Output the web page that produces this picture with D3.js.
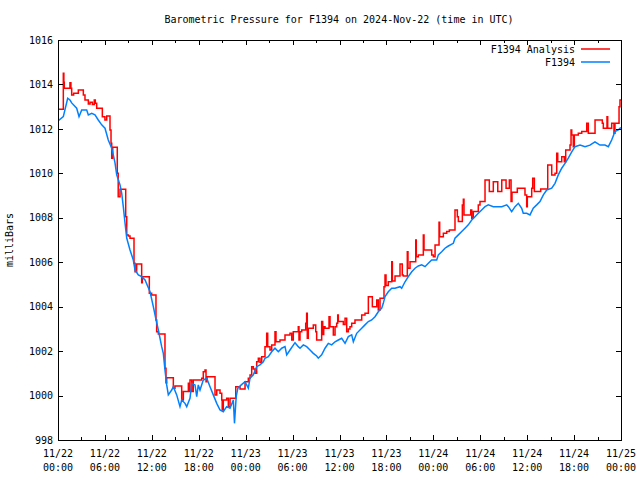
<!DOCTYPE html>
<html>
<head>
<meta charset="utf-8">
<script src="https://cdn.jsdelivr.net/npm/d3@7"></script>
<style>
  html, body { margin: 0; padding: 0; background: #fff; }
  svg { display: block; }
  text { font-family: "DejaVu Sans Mono", monospace; font-size: 10px; fill: #000; }
</style>
</head>
<body>
<svg id="chart" width="640" height="480"></svg>
<script>
// ---- Data (hours since 2024-11-22 00:00 UTC, pressure in mb) ----
const title = "Barometric Pressure for F1394 on 2024-Nov-22 (time in UTC)";
const yLabel = "milliBars";
const seriesNames = ["F1394 Analysis", "F1394"];
const seriesColors = ["#ff0000", "#0080ff"];

const yTicks = [998, 1000, 1002, 1004, 1006, 1008, 1010, 1012, 1014, 1016];
const xMajorHours = [0, 6, 12, 18, 24, 30, 36, 42, 48, 54, 60, 66, 72];
const xMinorHours = [3, 9, 15, 21, 27, 33, 39, 45, 51, 57, 63, 69];
const xTickDates = ["11/22","11/22","11/22","11/22","11/23","11/23","11/23","11/23","11/24","11/24","11/24","11/24","11/25"];
const xTickTimes = ["00:00","06:00","12:00","18:00","00:00","06:00","12:00","18:00","00:00","06:00","12:00","18:00","00:00"];

// Analysis series (step values)
const redHours = [0.0,0.68,0.75,0.8,1.53,1.65,1.75,2.0,2.6,3.24,3.45,3.88,4.1,4.4,4.64,4.77,4.95,5.67,6.0,6.23,6.65,6.78,6.87,7.0,7.58,7.7,7.93,8.66,8.79,9.0,9.21,9.72,9.85,10.06,10.7,10.78,11.68,11.98,12.53,12.62,12.83,13.68,13.81,13.9,14.75,14.96,15.82,16.03,16.67,16.75,16.88,17.1,17.3,18.38,18.58,18.8,18.93,19.06,20.08,20.3,20.72,20.94,21.0,21.14,21.57,21.78,22.0,22.73,23.28,23.92,24.34,24.56,24.77,24.98,25.2,25.41,25.62,25.83,26.05,26.47,26.69,26.82,27.11,27.33,27.75,27.88,28.39,29.03,29.67,29.89,30.09,30.73,30.82,30.95,31.17,31.68,31.8,31.88,32.01,32.65,32.96,33.08,33.72,33.85,33.98,34.15,34.66,34.79,35.21,35.43,35.64,35.77,35.85,36.49,36.71,36.92,37.13,37.34,37.56,37.98,38.84,39.26,39.69,40.2,40.76,40.96,41.18,41.69,41.82,41.95,42.24,42.68,42.76,43.1,43.74,44.03,44.16,44.67,44.76,45.02,45.75,45.82,46.08,46.72,46.81,47.79,48.0,48.22,48.73,48.81,49.28,49.71,50.05,50.77,51.07,51.2,51.71,51.84,51.92,52.78,52.91,53.11,53.75,53.97,54.61,55.16,55.67,56.24,56.75,57.3,57.72,57.94,58.06,58.74,59.72,59.94,60.02,60.58,60.71,60.92,61.73,62.63,63.14,63.56,63.78,63.91,64.42,64.75,64.93,65.48,65.61,65.7,65.9,66.03,66.54,66.98,67.62,67.82,68.68,69.61,69.74,70.21,70.3,70.81,71.1,71.23,71.75,71.87,72.0];
const redValues = [1012.88,1014.5,1014.1,1013.83,1014.08,1013.83,1013.53,1013.6,1013.75,1013.53,1013.3,1013.12,1013.2,1013.1,1013.3,1013.15,1012.93,1012.55,1012.4,1012.58,1011.95,1011.35,1010.68,1011.17,1010.0,1008.95,1009.28,1008.05,1007.23,1007.18,1007.08,1005.95,1005.57,1005.92,1005.08,1005.35,1004.6,1004.53,1003.4,1002.87,1002.77,1001.23,1000.58,1000.8,1000.33,1000.43,999.8,1000.18,1000.55,1000.18,1000.7,1000.18,1000.7,1000.78,1001.07,1001.15,1000.62,1000.85,1000.03,1000.25,1000.1,999.8,999.35,999.8,999.88,999.5,999.88,1000.4,1000.3,1000.62,1000.78,1000.93,1001.3,1001.2,1001.0,1001.52,1001.68,1001.5,1001.75,1002.2,1002.8,1002.2,1002.05,1002.28,1002.87,1002.42,1002.5,1002.73,1002.8,1002.5,1002.87,1003.1,1002.5,1002.87,1002.95,1003.25,1003.7,1002.58,1003.03,1003.18,1002.87,1002.5,1003.33,1002.75,1003.1,1003.03,1003.55,1003.1,1002.73,1003.1,1003.25,1003.63,1003.33,1003.2,1003.48,1002.87,1003.0,1003.1,1003.25,1003.4,1003.63,1003.7,1004.45,1004.0,1004.3,1003.85,1004.38,1004.9,1005.43,1004.95,1005.12,1006.02,1005.15,1005.38,1005.92,1005.43,1005.38,1006.47,1005.73,1006.02,1007.0,1006.25,1006.33,1007.23,1006.55,1006.33,1006.25,1006.78,1007.8,1007.15,1007.3,1007.38,1007.45,1008.35,1008.05,1007.83,1008.58,1008.83,1008.13,1008.35,1007.98,1008.28,1008.58,1008.73,1009.7,1009.18,1009.62,1009.18,1009.7,1009.33,1009.7,1008.73,1009.15,1009.33,1009.03,1008.5,1008.95,1009.33,1009.78,1009.18,1009.3,1010.38,1009.93,1010.0,1010.9,1010.52,1010.75,1010.52,1011.05,1011.27,1011.95,1011.73,1011.2,1011.73,1011.8,1011.88,1012.25,1011.8,1012.4,1012.25,1012.03,1012.55,1012.03,1012.25,1011.8,1012.25,1013.0,1013.3,1013.3];

// Observed series
const blueHours = [0.0,0.68,1.24,1.53,1.75,2.39,2.69,3.03,3.67,3.88,4.31,4.73,5.15,5.59,6.01,6.43,6.87,7.07,7.29,7.51,7.93,8.15,8.35,8.57,8.79,9.21,9.63,9.85,10.27,10.7,11.13,11.77,12.19,12.5,12.83,13.26,13.47,13.68,13.9,14.11,14.54,14.75,15.18,15.6,15.82,16.24,16.46,16.88,17.1,17.52,17.74,17.94,18.16,18.58,19.02,19.44,19.86,20.3,20.72,21.14,21.57,22.0,22.42,22.57,22.79,23.0,23.44,23.92,24.34,24.56,24.98,25.41,25.83,26.26,26.47,26.9,27.33,27.75,28.18,28.61,29.03,29.25,29.67,30.31,30.73,30.95,31.37,31.8,32.23,32.65,33.08,33.29,33.72,34.15,34.57,35.0,35.43,35.85,36.28,36.71,37.13,37.56,37.77,38.2,38.84,39.26,39.69,40.12,40.54,40.96,41.4,41.6,41.82,42.24,42.68,43.1,43.74,43.95,44.38,44.8,45.24,45.66,46.08,46.51,46.94,47.36,47.79,48.43,48.64,49.07,49.49,49.92,50.56,50.77,51.2,51.63,52.05,52.47,52.91,53.33,53.75,54.18,54.61,55.03,55.67,56.75,57.39,57.6,58.02,58.45,58.87,59.3,59.5,59.94,60.36,60.78,61.22,61.64,62.07,62.5,63.14,63.56,63.98,64.42,64.84,65.26,65.7,66.12,66.76,67.4,68.03,68.67,69.31,69.95,70.38,70.81,71.23,71.66,71.88,72.0];
const blueValues = [1012.36,1012.55,1013.38,1013.3,1013.17,1012.93,1012.55,1012.85,1012.85,1012.63,1012.7,1012.63,1012.4,1012.18,1012.03,1011.5,1011.13,1010.83,1010.47,1009.93,1009.48,1009.1,1008.5,1007.77,1007.08,1006.55,1006.1,1005.65,1005.43,1005.35,1005.2,1004.67,1004.0,1003.48,1002.95,1002.2,1001.9,1001.15,1000.48,1000.03,1000.25,1000.4,1000.03,999.5,999.8,999.65,999.5,999.88,1000.55,1000.48,999.95,1000.48,1000.25,1000.7,1000.78,1000.4,1000.03,999.65,999.35,999.27,999.5,999.43,999.8,998.75,999.95,1000.33,1000.48,1000.62,1000.33,1000.78,1000.93,1001.3,1001.38,1001.52,1001.68,1001.75,1001.97,1002.13,1001.97,1002.13,1002.2,1001.83,1002.05,1002.38,1002.2,1002.13,1002.28,1002.2,1002.05,1001.9,1001.78,1001.68,1001.83,1002.13,1002.35,1002.28,1002.42,1002.5,1002.58,1002.35,1002.65,1002.73,1002.42,1002.8,1003.03,1003.18,1003.33,1003.4,1003.55,1003.77,1003.93,1004.15,1004.45,1004.67,1004.83,1004.83,1004.9,1004.83,1005.12,1005.35,1005.57,1005.73,1005.83,1005.88,1005.8,1005.95,1006.1,1006.1,1006.33,1006.47,1006.63,1006.73,1006.85,1007.08,1007.23,1007.38,1007.53,1007.68,1007.9,1008.05,1008.2,1008.35,1008.5,1008.58,1008.5,1008.5,1008.58,1008.5,1008.28,1008.5,1008.65,1008.43,1008.2,1008.2,1008.13,1008.43,1008.58,1008.73,1009.03,1009.25,1009.33,1009.55,1009.93,1010.23,1010.45,1010.68,1010.97,1011.2,1011.27,1011.2,1011.27,1011.42,1011.27,1011.27,1011.2,1011.5,1011.88,1011.95,1012.03,1012.05];

// ---- Layout ----
const W = 640, H = 480;
const margin = { left: 58, right: 19, top: 40, bottom: 40 };
const plotL = margin.left, plotR = W - margin.right, plotT = margin.top, plotB = H - margin.bottom;

const svg = d3.select("#chart");

const x = d3.scaleLinear().domain([0, 72]).range([plotL, plotR]);
const y = d3.scaleLinear().domain([998, 1016]).range([plotB, plotT]);

// Title
svg.append("text")
  .attr("x", 339).attr("y", 23)
  .attr("text-anchor", "middle")
  .text(title);

// Y axis label
svg.append("text")
  .attr("transform", `translate(13,${(plotT + plotB) / 2}) rotate(-90)`)
  .attr("text-anchor", "middle")
  .text(yLabel);

// Data lines
const redData = redHours.map((h, i) => [h, redValues[i]]);
const blueData = blueHours.map((h, i) => [h, blueValues[i]]);

svg.append("clipPath").attr("id", "clip")
  .append("rect").attr("x", plotL).attr("y", plotT).attr("width", plotR - plotL).attr("height", plotB - plotT);

const gData = svg.append("g").attr("clip-path", "url(#clip)");

gData.append("path")
  .datum(redData)
  .attr("fill", "none")
  .attr("stroke", seriesColors[0])
  .attr("stroke-width", 1.5)
  .attr("stroke-linejoin", "miter")
  .attr("d", d3.line().x(d => x(d[0])).y(d => y(d[1])).curve(d3.curveStepAfter));

gData.append("path")
  .datum(blueData)
  .attr("fill", "none")
  .attr("stroke", seriesColors[1])
  .attr("stroke-width", 1.5)
  .attr("d", d3.line().x(d => x(d[0])).y(d => y(d[1])));

// Axes: ticks pointing inward, mirrored
function styleAxis(g) {
  g.select(".domain").remove();
  g.selectAll(".tick line").attr("stroke", "#000").attr("shape-rendering", "crispEdges");
}

svg.append("g").attr("transform", `translate(0,${plotB})`)
  .call(d3.axisBottom(x).tickValues(xMajorHours).tickSize(-5).tickFormat(() => ""))
  .call(styleAxis);
svg.append("g").attr("transform", `translate(0,${plotB})`)
  .call(d3.axisBottom(x).tickValues(xMinorHours).tickSize(-3).tickFormat(() => ""))
  .call(styleAxis);
svg.append("g").attr("transform", `translate(0,${plotT})`)
  .call(d3.axisTop(x).tickValues(xMajorHours).tickSize(-5).tickFormat(() => ""))
  .call(styleAxis);
svg.append("g").attr("transform", `translate(0,${plotT})`)
  .call(d3.axisTop(x).tickValues(xMinorHours).tickSize(-3).tickFormat(() => ""))
  .call(styleAxis);

svg.append("g").attr("transform", `translate(${plotL},0)`)
  .call(d3.axisLeft(y).tickValues(yTicks).tickSize(-5).tickPadding(5).tickFormat(d3.format("d")))
  .call(styleAxis)
  .call(g => g.selectAll(".tick text").attr("font-family", "DejaVu Sans Mono").attr("font-size", 10).attr("fill", "#000"));
svg.append("g").attr("transform", `translate(${plotR},0)`)
  .call(d3.axisRight(y).tickValues(yTicks).tickSize(-5).tickFormat(() => ""))
  .call(styleAxis);

// X tick labels (two lines)
const xl = svg.append("g");
xMajorHours.forEach((h, i) => {
  const t = xl.append("text").attr("text-anchor", "middle");
  t.append("tspan").attr("x", x(h)).attr("y", 457).text(xTickDates[i]);
  t.append("tspan").attr("x", x(h)).attr("y", 471).text(xTickTimes[i]);
});

// Frame
svg.append("rect")
  .attr("x", plotL + 0.5).attr("y", plotT + 0.5)
  .attr("width", plotR - plotL).attr("height", plotB - plotT)
  .attr("fill", "none").attr("stroke", "#000").attr("stroke-width", 1)
  .attr("shape-rendering", "crispEdges");

// Legend
const legend = svg.append("g");
seriesNames.forEach((name, i) => {
  const ly = 49 + i * 13;
  legend.append("text")
    .attr("x", 575).attr("y", ly + 4)
    .attr("text-anchor", "end")
    .text(name);
  legend.append("line")
    .attr("x1", 581).attr("x2", 610)
    .attr("y1", ly).attr("y2", ly)
    .attr("stroke", seriesColors[i]).attr("stroke-width", 1.5);
});
</script>
</body>
</html>
